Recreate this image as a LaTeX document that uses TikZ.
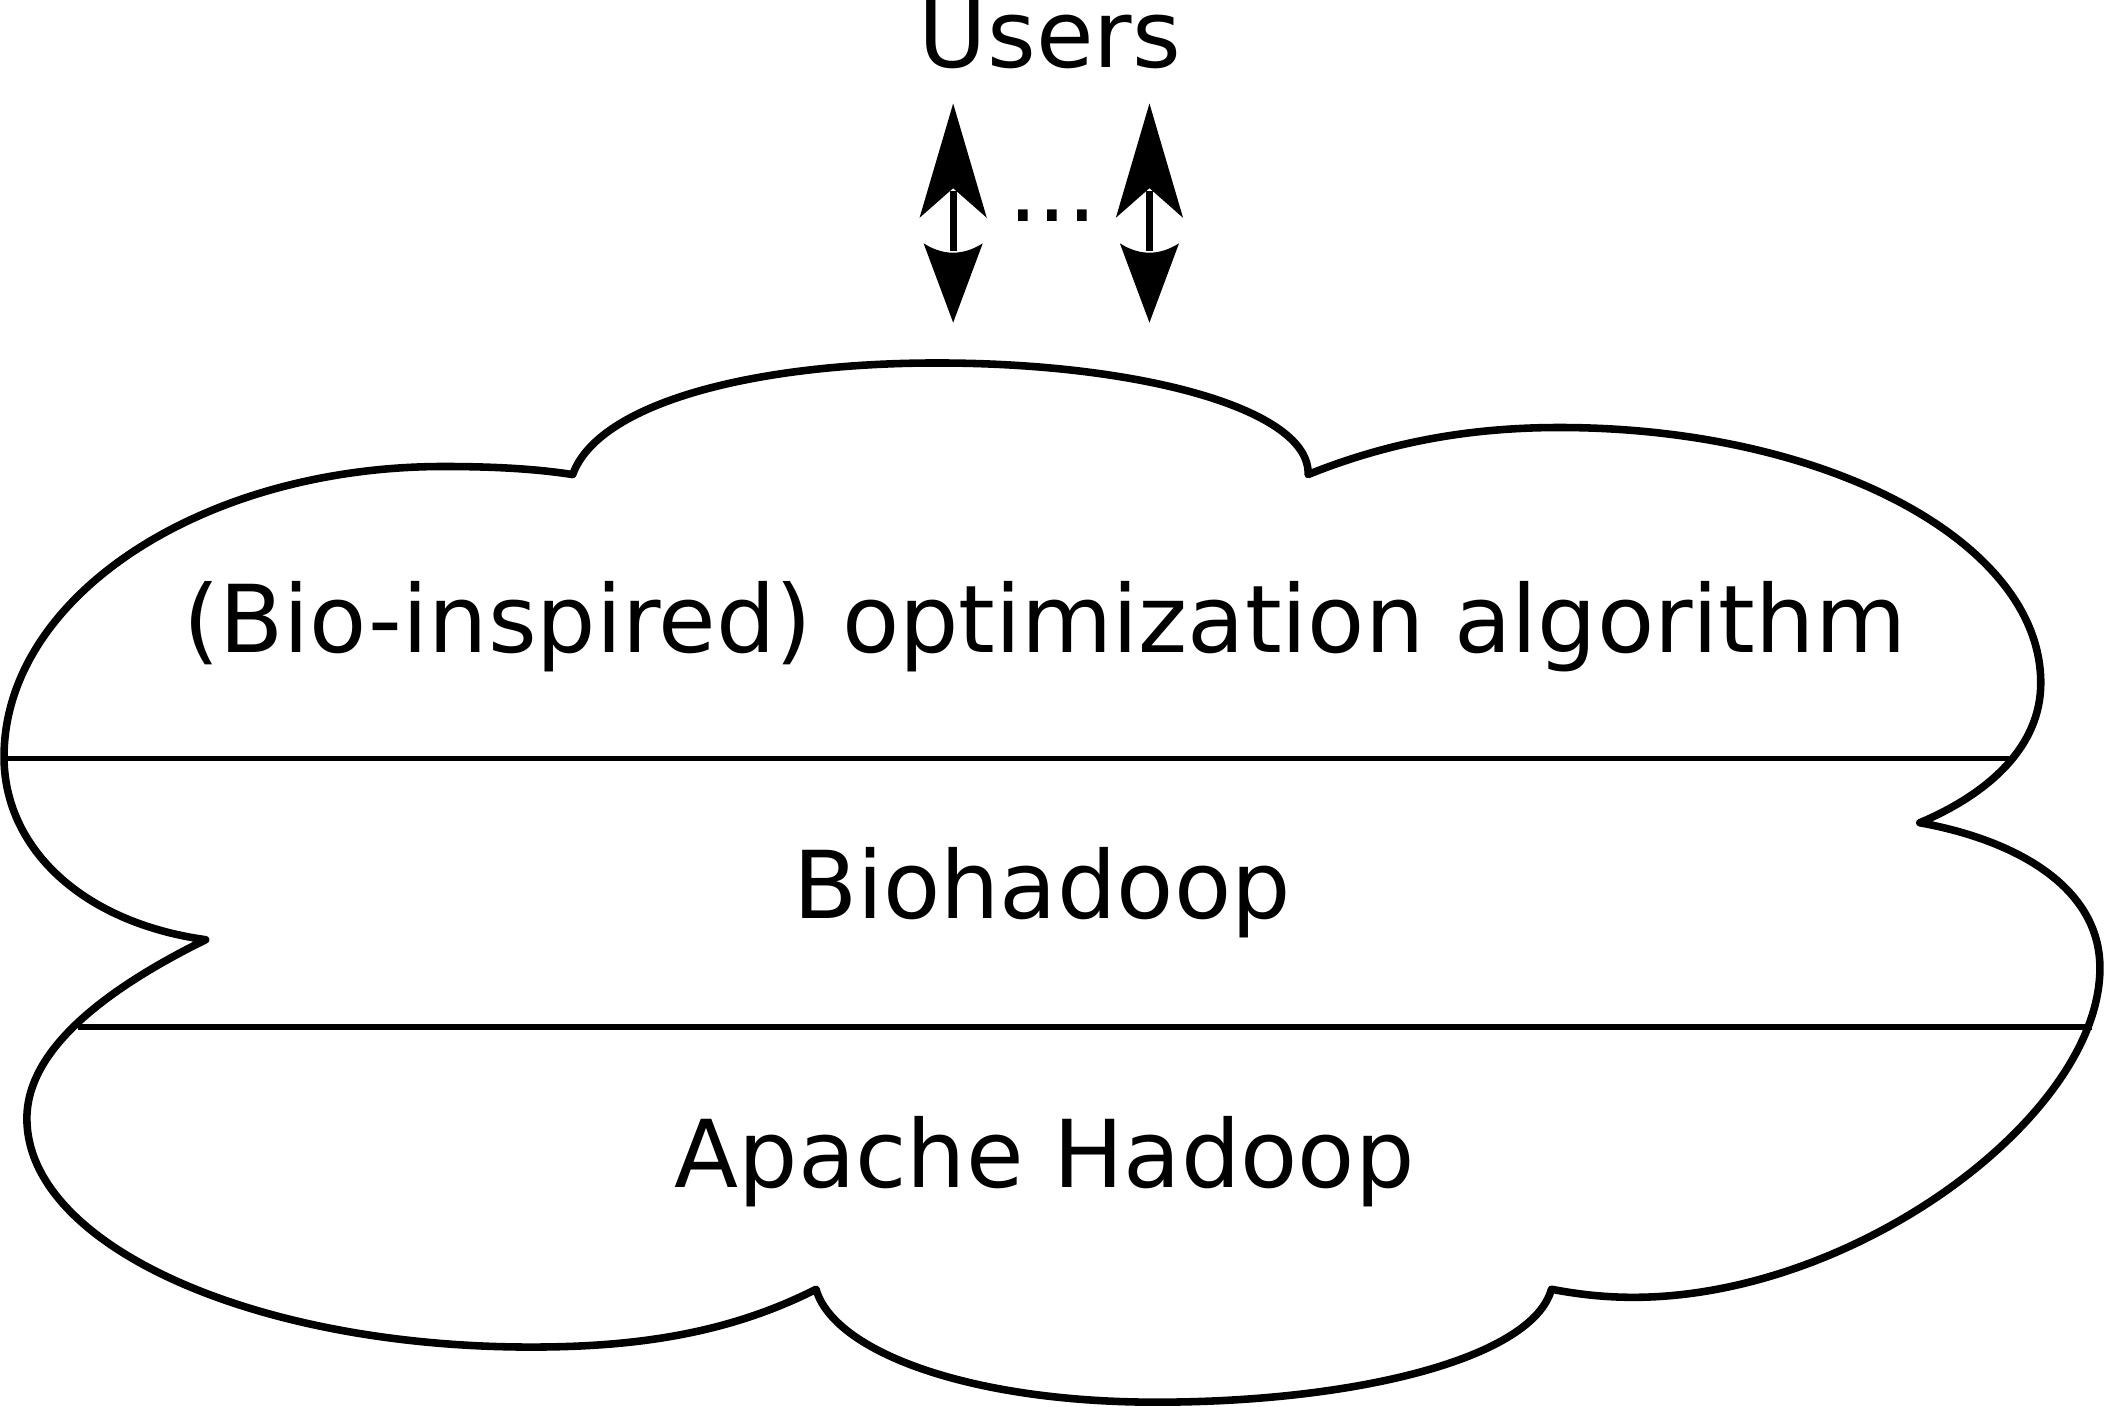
\documentclass[tikz,border=0pt]{standalone}
\usepackage{fontspec}
\setmainfont{DejaVu Sans}
\tikzset{
  cloudline/.style={line width=1.6pt, line join=round},
  divider/.style={line width=1.15pt},
  layertext/.style={anchor=base, inner sep=0pt, font=\fontsize{19.8}{24}\selectfont},
  userarrow/.pic={
    \draw[line width=1.5pt] (0,142) -- (0,187);
    \fill (0,77) -- (-25,162) -- (0,140) -- (25,162) -- cycle;
    \fill (0,240) -- (-22,181) .. controls (-7.3,190.3) and (7.3,190.3) .. (22,181) -- cycle;
  }
}
\begin{document}
\begin{tikzpicture}[x=0.01cm, y=-0.01cm]
\useasboundingbox (0,0) rectangle (1568,1046);
% cloud
\draw[cloudline]
  (153,699) .. controls (60,686) and (3,630) .. (3,563)
  .. controls (3,444) and (150,347) .. (330,347)
  .. controls (370,347) and (400,349) .. (426,353)
  .. controls (445,300) and (560,270) .. (697,270)
  .. controls (850,270) and (975,305) .. (973,353)
  .. controls (1030,330) and (1090,318) .. (1160,318)
  .. controls (1358,318) and (1518,403) .. (1518,508)
  .. controls (1518,555) and (1480,590) .. (1428,612)
  .. controls (1500,625) and (1562,660) .. (1562,720)
  .. controls (1562,830) and (1380,965) .. (1215,965)
  .. controls (1190,965) and (1170,962) .. (1154,959)
  .. controls (1140,1010) and (1010,1043) .. (860,1043)
  .. controls (720,1043) and (620,1005) .. (607,959)
  .. controls (540,993) and (470,1002) .. (395,1002)
  .. controls (188,1002) and (20,926) .. (20,832)
  .. controls (20,780) and (80,735) .. (153,699) -- cycle;
% dividers
\coordinate (d1l) at (4,564);
\coordinate (d1r) at (1494,564);
\coordinate (d2l) at (58,764);
\coordinate (d2r) at (1556,764);
\draw[divider] (d1l) -- (d1r);
\draw[divider] (d2l) -- (d2r);
% texts
\node[layertext] (algo) at (777,485) {(Bio-inspired) optimization algorithm};
\node[layertext] (bio) at (775,683) {Biohadoop};
\node[layertext] (apache) at (777,883) {Apache Hadoop};
\node[layertext] (users) at (781,50) {Users};
\node[layertext] (dots) at (783,165) {...};
% arrows
\pic at (709,0) {userarrow};
\pic at (855,0) {userarrow};
\end{tikzpicture}
\end{document}
